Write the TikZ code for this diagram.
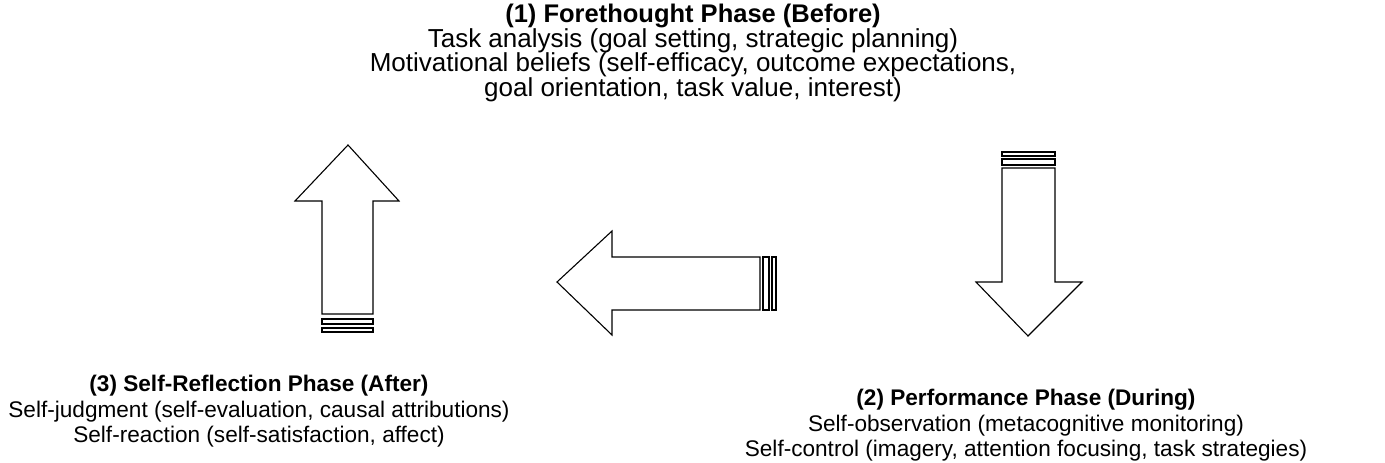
\documentclass[tikz,border=0pt]{standalone}
\usepackage{fontspec}
\setmainfont{Liberation Sans}
\usetikzlibrary{positioning}

\begin{document}
\begin{tikzpicture}[
  x=1pt, y=-1pt,
  phase/.style={align=center, inner sep=0pt, anchor=north},
  bigtext/.style={font=\fontsize{26}{24.5}\selectfont},
  smalltext/.style={font=\fontsize{22.6}{25.5}\selectfont},
  blockarrow/.style={draw, fill=white, line width=1.1pt, line join=miter}
]
\useasboundingbox (0,0) rectangle (1385,463);

% phase texts
\node[phase, bigtext] (forethought) at (693,4) {{\fontsize{25.5}{24.5}\selectfont\bfseries (1) Forethought Phase (Before)}\\
  Task analysis (goal setting, strategic planning)\\
  Motivational beliefs (self-efficacy, outcome expectations,\\
  goal orientation, task value, interest)};
\node[phase, smalltext] (performance) at (1026,389) {\textbf{(2) Performance Phase (During)}\\
  Self-observation (metacognitive monitoring)\\
  Self-control (imagery, attention focusing, task strategies)};
\node[phase, smalltext] (reflection) at (259,375) {\textbf{(3) Self-Reflection Phase (After)}\\
  Self-judgment (self-evaluation, causal attributions)\\
  Self-reaction (self-satisfaction, affect)};

% forethought -> performance (down)
\draw[blockarrow] (1002,168) -- (1055,168) -- (1055,282) -- (1082,282) -- (1028,336)
  -- (976,282) -- (1002,282) -- cycle;
\draw[blockarrow] (1002,159) rectangle (1055,165);
\draw[blockarrow] (1002,152) rectangle (1055,156);

% performance -> reflection (left)
\draw[blockarrow] (760,257) -- (760,310) -- (612,310) -- (612,335) -- (557,282)
  -- (612,231) -- (612,257) -- cycle;
\draw[blockarrow] (763,257) rectangle (769,310);
\draw[blockarrow] (772,257) rectangle (776,310);

% reflection -> forethought (up)
\draw[blockarrow] (322,314) -- (373,314) -- (373,201) -- (399,201) -- (348,145)
  -- (295,201) -- (322,201) -- cycle;
\draw[blockarrow] (322,319) rectangle (373,324);
\draw[blockarrow] (322,328) rectangle (373,332);
\end{tikzpicture}
\end{document}
